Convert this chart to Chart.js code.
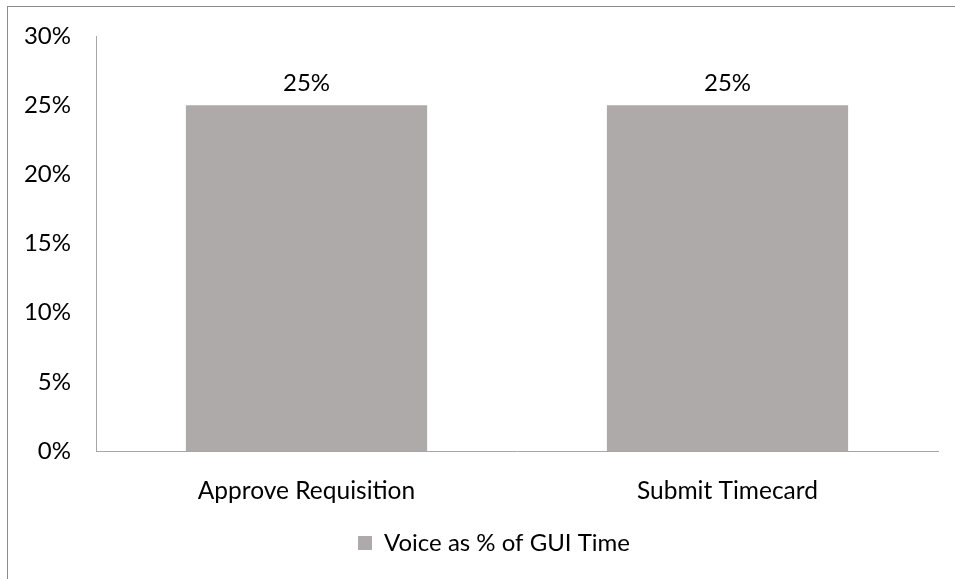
<!DOCTYPE html>
<html>
<head>
<meta charset="utf-8">
<script src="https://cdn.jsdelivr.net/npm/chart.js@4.4.1/dist/chart.umd.min.js"></script>
<style>
  html, body { margin: 0; padding: 0; background: #fff; overflow: hidden; }
  #frame {
    position: absolute; left: 7px; top: 6px; width: 1000px; height: 1000px;
    border-left: 1px solid #8c8c8c; border-top: 1px solid #8c8c8c;
  }
  #wrap { position: absolute; left: 0; top: 0; width: 955px; height: 579px; }
</style>
</head>
<body>
<div id="frame"></div>
<div id="wrap"><canvas id="chart"></canvas></div>
<script>
const categories = ['Approve Requisition', 'Submit Timecard'];
const voiceValues = [25, 25];
const seriesName = 'Voice as % of GUI Time';
const yTicks = [0, 5, 10, 15, 20, 25, 30];

const FONT = "Lato, 'Open Sans', sans-serif";
const barColor = '#aeaaa9';

const barLabels = {
    id: 'barLabels',
    afterDatasetsDraw(chart) {
        const ctx = chart.ctx;
        ctx.save();
        ctx.font = `24px ${FONT}`;
        ctx.fillStyle = '#000';
        ctx.textAlign = 'center';
        ctx.textBaseline = 'bottom';
        chart.getDatasetMeta(0).data.forEach((bar, i) => {
            ctx.fillText(voiceValues[i] + '%', bar.x, bar.y - 10);
        });
        ctx.restore();
    }
};

// legend sits a bit right of centre in the original
const legendShift = {
    id: 'legendShift',
    afterLayout(chart) {
        chart.legend.left += 25;
        chart.legend.right += 25;
    }
};

new Chart(document.getElementById('chart'), {
    type: 'bar',
    data: {
        labels: categories,
        datasets: [{
            label: seriesName,
            data: voiceValues,
            backgroundColor: barColor,
            borderWidth: 0,
            barPercentage: 0.573,
            categoryPercentage: 1
        }]
    },
    options: {
        responsive: true,
        maintainAspectRatio: false,
        animation: false,
        layout: { padding: { top: 36, right: 17, bottom: 14, left: 0 } },
        plugins: {
            legend: {
                position: 'bottom',
                labels: {
                    color: '#000',
                    font: { family: FONT, size: 24 },
                    boxWidth: 14,
                    boxHeight: 14,
                    padding: 7
                }
            },
            tooltip: { enabled: false }
        },
        scales: {
            x: {
                grid: { display: false, drawTicks: false },
                border: { color: '#a6a6a6', width: 1 },
                ticks: { color: '#000', font: { family: FONT, size: 24.5 }, padding: 25 },
                afterFit: s => { s.height = 73; }
            },
            y: {
                min: 0,
                max: 30,
                afterBuildTicks: s => { s.ticks = yTicks.map(v => ({ value: v })); },
                grid: { display: false, drawTicks: false },
                border: { color: '#a6a6a6', width: 1 },
                ticks: {
                    color: '#000',
                    font: { family: FONT, size: 24 },
                    padding: 25,
                    callback: v => v + '%'
                },
                afterFit: s => { s.width = 96; s.paddingTop = 0; s.paddingBottom = 0; }
            }
        }
    },
    plugins: [barLabels, legendShift]
});
</script>
</body>
</html>
